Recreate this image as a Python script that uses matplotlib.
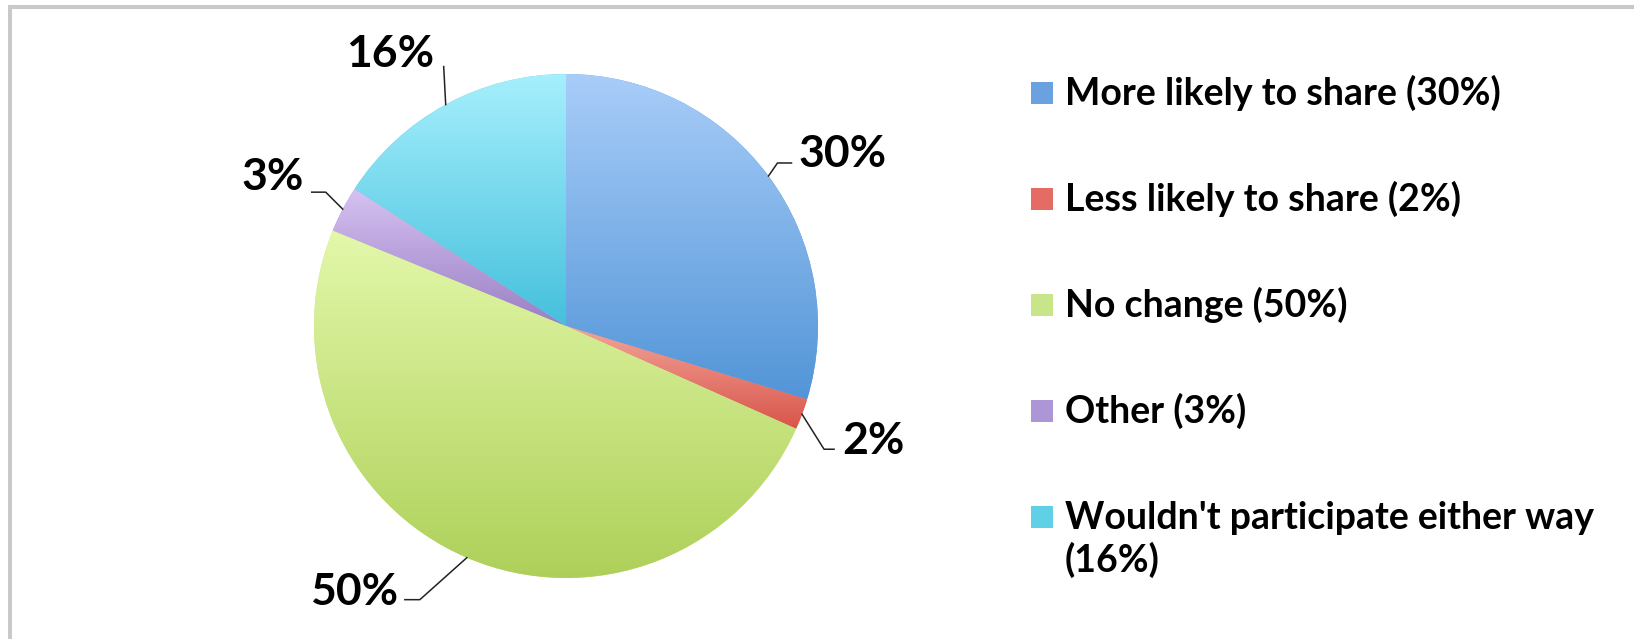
import matplotlib
matplotlib.use('Agg')
import matplotlib.pyplot as plt
from matplotlib.colors import LinearSegmentedColormap
from matplotlib.patches import Rectangle
from matplotlib.lines import Line2D
import numpy as np

# data
categories = ['More likely to share', 'Less likely to share', 'No change', 'Other',
              "Wouldn't participate either way"]
shares = [30, 2, 50, 3, 16]
pct_labels = ['30%', '2%', '50%', '3%', '16%']
legend_labels = ['More likely to share (30%)', 'Less likely to share (2%)', 'No change (50%)',
                 'Other (3%)', "Wouldn't participate either way\n(16%)"]

# colours (gradient top / bottom, legend key)
top_colors = ['#a9cdf9', '#f2a59a', '#e3f8aa', '#d6c2f2', '#a6effd']
bottom_colors = ['#5295d7', '#d9544a', '#aed059', '#9a7fc4', '#45c0dc']
key_colors = ['#6aa2e0', '#e46c64', '#c8e58a', '#ad96d6', '#5fd0e6']

plt.rcParams['font.family'] = ['Lato', 'DejaVu Sans']

W, H = 1634, 639
fig = plt.figure(figsize=(W / 100, H / 100), dpi=100)
fig.patch.set_facecolor('white')


def fx(x):
    return x / W


def fy(y):
    return 1 - y / H


# frame (only top and left edges visible)
fig.add_artist(Line2D([fx(10), fx(W + 10)], [fy(7), fy(7)], color='#c9c9c9', lw=2.9,
                      transform=fig.transFigure))
fig.add_artist(Line2D([fx(10), fx(10)], [fy(7), fy(H + 10)], color='#c9c9c9', lw=2.9,
                      transform=fig.transFigure))

# pie
cx, cy, R = 566, 326, 252
ax = fig.add_axes([fx(cx - R), (H - cy - R) / H, 2 * R / W, 2 * R / H])
wedges, _ = ax.pie(shares, startangle=90, counterclock=False, colors=key_colors,
                   wedgeprops=dict(linewidth=0))
grad = np.linspace(0, 1, 256).reshape(-1, 1)
for w, ct, cb in zip(wedges, top_colors, bottom_colors):
    x0, y0, x1, y1 = w.get_path().get_extents().extents
    cmap = LinearSegmentedColormap.from_list('g', [cb, ct])
    im = ax.imshow(grad, cmap=cmap, extent=[x0, x1, y0, y1], origin='lower',
                   aspect='auto', zorder=2, interpolation='bilinear')
    im.set_clip_path(w)
ax.set_xlim(-1, 1)
ax.set_ylim(-1, 1)
ax.set_aspect('auto')
ax.axis('off')

# leader lines + percentage labels (offsets in pixels, y downwards)
leader_path = [[(9, -13), (23, -13)], [(22, 35), (32, 35)], [(-47, 42), (-62, 42)],
               [(-17, -17), (-31, -17)], [(-2, -38)]]
label_off = [(30, -22, 'left'), (40, 27, 'left'), (-69, 34, 'right'),
             (-39, -32, 'right'), (-12, -51, 'right')]

for w, lab, path, (ox, oy, ha) in zip(wedges, pct_labels, leader_path, label_off):
    mid = np.deg2rad((w.theta1 + w.theta2) / 2)
    sx, sy = ax.transData.transform((np.cos(mid), np.sin(mid)))
    sy = H - sy
    xs = [sx] + [sx + dx for dx, dy in path]
    ys = [sy] + [sy + dy for dx, dy in path]
    fig.add_artist(Line2D([fx(v) for v in xs], [fy(v) for v in ys], color='#222222',
                          lw=1.1, transform=fig.transFigure))
    fig.text(fx(sx + ox), fy(sy + oy), lab, ha=ha, va='center', fontsize=32,
             fontweight='bold', color='black')

# legend
for i, (lab, col) in enumerate(zip(legend_labels, key_colors)):
    yc = 93 + 106 * i
    fig.add_artist(Rectangle((fx(1031), fy(yc + 11)), 22 / W, 22 / H, facecolor=col,
                             edgecolor='none', transform=fig.transFigure))
    for j, line in enumerate(lab.split('\n')):
        fig.text(fx(1065), fy(yc + 12 + 43 * j), line, ha='left', va='baseline',
                 fontsize=27, fontweight='bold', color='black')

fig.savefig('out.png', dpi=100, facecolor='white')
